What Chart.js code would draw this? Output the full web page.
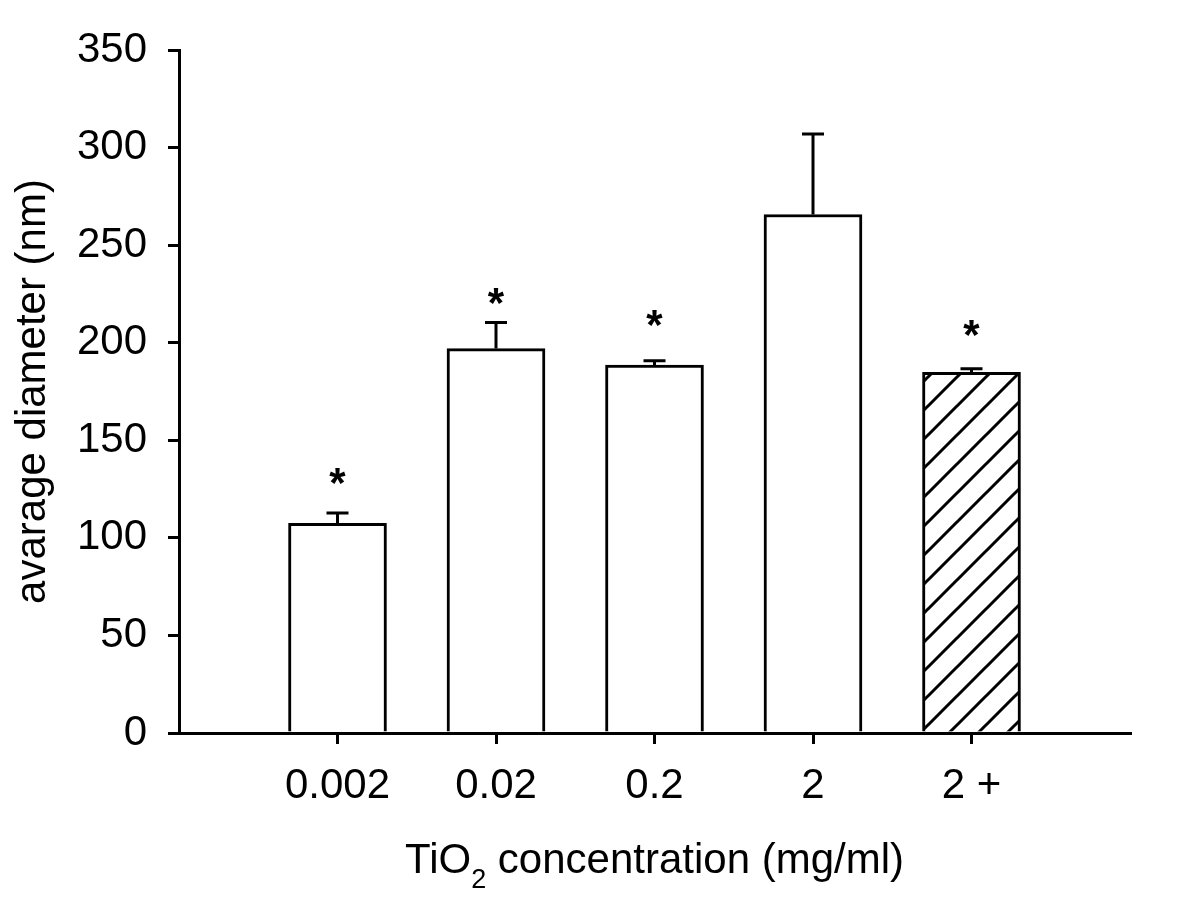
<!DOCTYPE html>
<html>
<head>
<meta charset="utf-8">
<script src="https://cdn.jsdelivr.net/npm/chart.js@4.4.0/dist/chart.umd.min.js"></script>
<style>
  html, body { margin: 0; padding: 0; background: #fff; }
  #wrap { width: 1200px; height: 902px; }
</style>
</head>
<body>
<div id="wrap"><canvas id="sizeChart"></canvas></div>
<script>
// empty slots at both ends keep the axis running past the outer bars
const concentrations = ['', '0.002', '0.02', '0.2', '2', '2 +', '']
const diameters = [null, 107.5, 197, 188.5, 265.7, 184.8, null]
const errors = [null, 5.2, 13.3, 2.2, 41.3, 1.8, null]
const starLevels = [null, 133.2, 225, 213.7, null, 208.6, null]
const yMin = 0
const yMax = 350
const yStep = 50

const FONT = '"Liberation Sans", Arial, sans-serif'

// diagonal hatching for the "2 +" bar
const hatch = (() => {
  const s = 29
  const c = document.createElement('canvas')
  c.width = s; c.height = s
  const g = c.getContext('2d')
  g.fillStyle = '#fff'
  g.fillRect(0, 0, s, s)
  g.strokeStyle = '#000'
  g.lineWidth = 3
  g.beginPath()
  g.moveTo(-3, s + 3); g.lineTo(s + 3, -3)
  g.moveTo(-5, 5); g.lineTo(5, -5)
  g.moveTo(s - 5, s + 5); g.lineTo(s + 5, s - 5)
  g.stroke()
  return g.createPattern(c, 'repeat')
})()

const extras = {
  id: 'extras',
  afterDatasetsDraw(chart) {
    const { ctx, scales: { x, y } } = chart
    const meta = chart.getDatasetMeta(0)
    ctx.save()
    ctx.strokeStyle = '#000'
    ctx.lineWidth = 3
    meta.data.forEach((bar, i) => {
      if (diameters[i] == null) return
      const top = y.getPixelForValue(diameters[i] + errors[i])
      ctx.beginPath()
      ctx.moveTo(bar.x, bar.y)
      ctx.lineTo(bar.x, top)
      ctx.moveTo(bar.x - 11, top)
      ctx.lineTo(bar.x + 11, top)
      ctx.stroke()
    })
    // significance marks
    ctx.fillStyle = '#000'
    ctx.font = 'bold 42px ' + FONT
    ctx.textAlign = 'center'
    ctx.textBaseline = 'alphabetic'
    meta.data.forEach((bar, i) => {
      if (starLevels[i] == null) return
      ctx.fillText('*', bar.x, y.getPixelForValue(starLevels[i]) + 23.5)
    })

    // x title with a real subscript
    const parts = [
      { t: 'TiO', size: 42, dy: 0 },
      { t: '2', size: 27, dy: 15 },
      { t: ' concentration (mg/ml)', size: 42, dy: 0 }
    ]
    let total = 0
    parts.forEach(p => {
      ctx.font = p.size + 'px ' + FONT
      p.w = ctx.measureText(p.t).width
      total += p.w
    })
    let cx = (x.left + x.right) / 2 - total / 2
    const base = x.bottom - 29
    ctx.textAlign = 'left'
    parts.forEach(p => {
      ctx.font = p.size + 'px ' + FONT
      ctx.fillText(p.t, cx, base + p.dy)
      cx += p.w
    })
    ctx.restore()
  }
}

const config = {
  type: 'bar',
  data: {
    labels: concentrations,
    datasets: [{
      data: diameters,
      backgroundColor: c => c.dataIndex === 5 ? hatch : '#fff',
      borderColor: '#000',
      borderWidth: 3,
      barThickness: 98
    }]
  },
  options: {
    responsive: true,
    maintainAspectRatio: false,
    animation: false,
    layout: { padding: { top: 50, right: 70, left: 0, bottom: 0 } },
    plugins: {
      legend: { display: false },
      tooltip: { enabled: false }
    },
    scales: {
      x: {
        offset: false,
        afterFit: s => { s.height = 169 },
        grid: {
          offset: false,
          drawOnChartArea: false,
          drawTicks: true,
          tickLength: 11,
          lineWidth: 3,
          tickColor: c => (c.index === 0 || c.index === concentrations.length - 1) ? 'rgba(0,0,0,0)' : '#000'
        },
        border: { color: '#000', width: 3 },
        ticks: {
          color: '#000',
          font: { family: FONT, size: 42 },
          padding: 17,
          autoSkip: false,
          maxRotation: 0
        }
      },
      y: {
        min: yMin,
        max: yMax,
        afterFit: s => { s.width = 179 },
        grid: {
          drawOnChartArea: false,
          drawTicks: true,
          tickLength: 11,
          lineWidth: 3,
          tickColor: '#000'
        },
        border: { color: '#000', width: 3 },
        ticks: {
          stepSize: yStep,
          color: '#000',
          font: { family: FONT, size: 42 },
          padding: 21
        },
        title: {
          display: true,
          text: 'avarage diameter (nm)',
          color: '#000',
          font: { family: FONT, size: 42 },
          padding: { top: 8, bottom: 0 }
        }
      }
    }
  },
  plugins: [extras]
}

const sizeChart = new Chart(document.getElementById('sizeChart'), config)
</script>
</body>
</html>
